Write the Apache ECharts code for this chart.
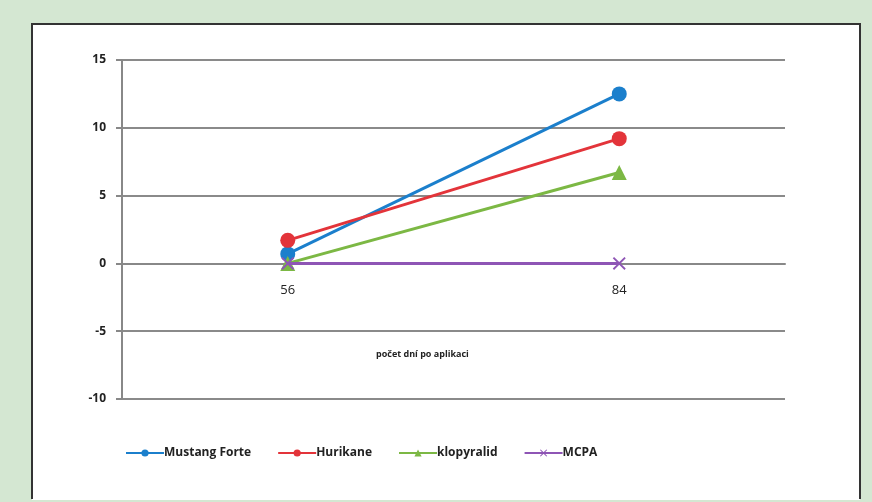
<!DOCTYPE html>
<html>
<head>
<meta charset="utf-8">
<script src="https://cdn.jsdelivr.net/npm/echarts@6/dist/echarts.min.js"></script>
<style>
  html, body { margin: 0; padding: 0; background: #d4e7d2; }
  #chart { width: 872px; height: 502px; }
</style>
</head>
<body>
<div id="chart"></div>
<script>
// Days after application
const categories = ['56', '84'];

// Response values per herbicide
const mustangForte = [0.7, 12.5];
const hurikane = [1.7, 9.2];
const klopyralid = [0.0, 6.7];
const mcpa = [0.0, 0.0];

const seriesNames = ['Mustang Forte', 'Hurikane', 'klopyralid', 'MCPA'];
const yTicks = { min: -10, max: 15, step: 5 };
const xAxisTitle = 'počet dní po aplikaci';

const colors = ['#1b7fcc', '#e3343a', '#7cb844', '#8e55b5'];
const crossSymbol = 'path://M0,1 L1,0 L5,4 L9,0 L10,1 L6,5 L10,9 L9,10 L5,6 L1,10 L0,9 L4,5 Z';

const gridTop = 60, gridBottom = 103;
const plotHeight = 502 - gridTop - gridBottom;
// the category axis sits on the zero line of the value axis
const zeroOffset = -plotHeight * (0 - yTicks.min) / (yTicks.max - yTicks.min);

const chart = echarts.init(document.getElementById('chart'), null, { renderer: 'canvas' });

function lineSeries(name, data, color, symbol, size, z) {
  return {
    name: name,
    type: 'line',
    data: data,
    symbol: symbol,
    symbolSize: size,
    z: z,
    lineStyle: { color: color, width: 3 },
    itemStyle: { color: color, borderColor: color, borderWidth: 0 },
    emphasis: { disabled: true },
    animation: false
  };
}

chart.setOption({
  backgroundColor: '#d4e7d2',
  animation: false,
  textStyle: { fontFamily: 'Open Sans, Liberation Sans, sans-serif' },
  graphic: [
    {
      type: 'rect',
      z: -10,
      silent: true,
      shape: { x: 32, y: 24, width: 828, height: 476 },
      style: { fill: '#ffffff', stroke: null }
    },
    {
      type: 'polyline',
      z: -9,
      silent: true,
      shape: { points: [[32, 499], [32, 24], [860, 24], [860, 499]] },
      style: { stroke: '#333333', lineWidth: 2, fill: null }
    },
    {
      type: 'text',
      silent: true,
      left: 376,
      top: 350,
      style: {
        text: xAxisTitle,
        font: 'bold 9px "Open Sans", sans-serif',
        fill: '#222222'
      }
    }
  ],
  color: colors,
  grid: { left: 122, right: 87, top: gridTop, bottom: gridBottom },
  legend: {
    left: 120,
    top: 442,
    itemWidth: 38,
    itemHeight: 9,
    itemGap: 26,
    data: seriesNames,
    textStyle: { fontSize: 12, color: '#222222', fontWeight: 'bold', padding: [0, 0, 0, -5] },
    selectedMode: false
  },
  xAxis: {
    type: 'category',
    data: categories,
    boundaryGap: true,
    position: 'bottom',
    offset: zeroOffset,
    axisLine: { onZero: false, lineStyle: { color: '#888888', width: 2 } },
    axisTick: { show: false },
    axisLabel: { fontSize: 13, color: '#222222', margin: 20 },
    splitLine: { show: false }
  },
  yAxis: {
    type: 'value',
    min: yTicks.min,
    max: yTicks.max,
    interval: yTicks.step,
    axisLine: { show: true, lineStyle: { color: '#888888', width: 2 } },
    axisTick: { show: true, length: 6, lineStyle: { color: '#888888', width: 2 } },
    axisLabel: { fontSize: 12, fontWeight: 'bold', color: '#222222', margin: 16 },
    splitLine: { show: true, lineStyle: { color: '#8a8a8a', width: 2 } }
  },
  series: [
    lineSeries(seriesNames[0], mustangForte, colors[0], 'circle', 15, 3),
    lineSeries(seriesNames[1], hurikane, colors[1], 'circle', 15, 4),
    lineSeries(seriesNames[2], klopyralid, colors[2], 'triangle', 15, 5),
    lineSeries(seriesNames[3], mcpa, colors[3], crossSymbol, 13, 6)
  ]
});
</script>
</body>
</html>
